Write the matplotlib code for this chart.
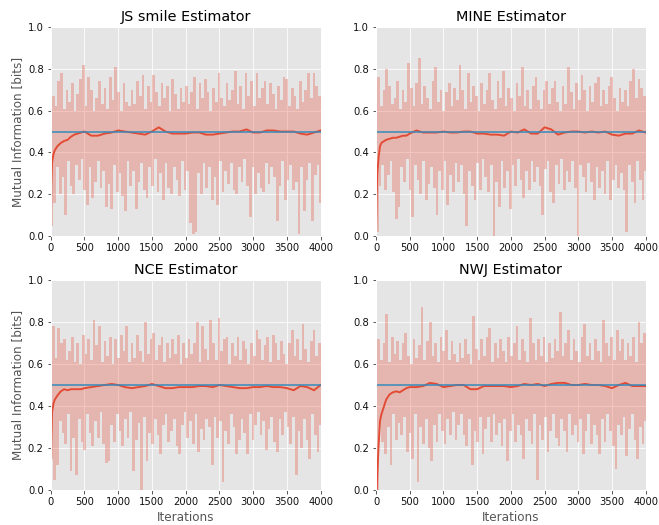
import numpy as np
import matplotlib
matplotlib.use("Agg")
import matplotlib.pyplot as plt

plt.style.use("ggplot")

titles = ["JS smile Estimator", "MINE Estimator", "NCE Estimator", "NWJ Estimator"]
true_mi = 0.5
xticks = [0, 500, 1000, 1500, 2000, 2500, 3000, 3500, 4000]
yticks = [0.0, 0.2, 0.4, 0.6, 0.8, 1.0]

# raw estimates: alternating local highs (upper) and lows (lower)
js_upper = [0.55, 0.67, 0.62, 0.74, 0.78, 0.61, 0.70, 0.64, 0.73, 0.60,
            0.68, 0.75, 0.82, 0.62, 0.76, 0.70, 0.60, 0.66, 0.74, 0.63,
            0.71, 0.61, 0.76, 0.65, 0.81, 0.69, 0.60, 0.73, 0.64, 0.62,
            0.70, 0.63, 0.74, 0.67, 0.77, 0.61, 0.72, 0.64, 0.77, 0.69,
            0.62, 0.73, 0.66, 0.72, 0.60, 0.75, 0.68, 0.61, 0.71, 0.64,
            0.72, 0.63, 0.69, 0.76, 0.61, 0.73, 0.66, 0.75, 0.69, 0.60,
            0.71, 0.64, 0.78, 0.66, 0.62, 0.73, 0.65, 0.70, 0.79, 0.63,
            0.72, 0.61, 0.78, 0.67, 0.74, 0.62, 0.78, 0.66, 0.71, 0.74,
            0.63, 0.73, 0.68, 0.61, 0.72, 0.65, 0.76, 0.75, 0.62, 0.71,
            0.67, 0.61, 0.74, 0.64, 0.70, 0.78, 0.66, 0.78, 0.72, 0.67]
js_lower = [0.05, 0.16, 0.33, 0.20, 0.28, 0.10, 0.36, 0.24, 0.20, 0.34,
            0.27, 0.37, 0.22, 0.15, 0.33, 0.18, 0.26, 0.36, 0.23, 0.31,
            0.14, 0.25, 0.13, 0.34, 0.21, 0.30, 0.19, 0.12, 0.36, 0.24,
            0.31, 0.13, 0.26, 0.35, 0.22, 0.18, 0.33, 0.24, 0.37, 0.21,
            0.30, 0.17, 0.35, 0.23, 0.20, 0.33, 0.27, 0.19, 0.36, 0.22,
            0.31, 0.06, 0.01, 0.02, 0.30, 0.20, 0.35, 0.23, 0.33, 0.17,
            0.28, 0.15, 0.36, 0.21, 0.31, 0.25, 0.35, 0.22, 0.20, 0.33,
            0.26, 0.37, 0.24, 0.09, 0.33, 0.20, 0.30, 0.23, 0.21, 0.35,
            0.25, 0.33, 0.28, 0.07, 0.24, 0.36, 0.17, 0.27, 0.34, 0.22,
            0.26, 0.01, 0.33, 0.12, 0.27, 0.35, 0.07, 0.29, 0.34, 0.16]

mine_upper = [0.45, 0.76, 0.62, 0.70, 0.80, 0.72, 0.63, 0.66, 0.74, 0.61,
              0.70, 0.64, 0.83, 0.71, 0.62, 0.73, 0.85, 0.63, 0.72, 0.66,
              0.61, 0.74, 0.81, 0.64, 0.70, 0.60, 0.69, 0.73, 0.62, 0.71,
              0.65, 0.82, 0.70, 0.61, 0.78, 0.64, 0.72, 0.67, 0.60, 0.73,
              0.63, 0.70, 0.78, 0.65, 0.61, 0.74, 0.66, 0.79, 0.62, 0.71,
              0.66, 0.60, 0.73, 0.67, 0.81, 0.62, 0.70, 0.61, 0.72, 0.76,
              0.65, 0.61, 0.70, 0.74, 0.63, 0.71, 0.74, 0.64, 0.60, 0.72,
              0.63, 0.81, 0.69, 0.61, 0.73, 0.65, 0.77, 0.70, 0.60, 0.72,
              0.64, 0.73, 0.76, 0.62, 0.70, 0.63, 0.72, 0.76, 0.66, 0.60,
              0.71, 0.64, 0.70, 0.62, 0.74, 0.80, 0.66, 0.75, 0.71, 0.67]
mine_lower = [0.02, 0.24, 0.34, 0.22, 0.29, 0.36, 0.21, 0.08, 0.14, 0.33,
              0.26, 0.37, 0.22, 0.09, 0.34, 0.27, 0.20, 0.36, 0.17, 0.25,
              0.33, 0.23, 0.10, 0.31, 0.22, 0.36, 0.15, 0.29, 0.21, 0.35,
              0.26, 0.34, 0.20, 0.05, 0.31, 0.24, 0.17, 0.35, 0.22, 0.37,
              0.28, 0.21, 0.34, 0.00, 0.26, 0.14, 0.36, 0.23, 0.31, 0.13,
              0.34, 0.24, 0.37, 0.27, 0.18, 0.31, 0.22, 0.36, 0.26, 0.33,
              0.24, 0.10, 0.32, 0.36, 0.21, 0.16, 0.34, 0.25, 0.37, 0.22,
              0.31, 0.26, 0.36, 0.23, 0.00, 0.34, 0.28, 0.21, 0.35, 0.26,
              0.17, 0.33, 0.23, 0.31, 0.20, 0.36, 0.17, 0.27, 0.34, 0.23,
              0.30, 0.22, 0.02, 0.34, 0.26, 0.16, 0.36, 0.27, 0.17, 0.31]

nce_upper = [0.50, 0.78, 0.63, 0.77, 0.70, 0.72, 0.62, 0.66, 0.73, 0.61,
             0.70, 0.60, 0.74, 0.65, 0.72, 0.62, 0.81, 0.69, 0.78, 0.61,
             0.71, 0.64, 0.73, 0.60, 0.72, 0.63, 0.74, 0.66, 0.78, 0.61,
             0.70, 0.63, 0.74, 0.66, 0.61, 0.80, 0.65, 0.72, 0.75, 0.62,
             0.69, 0.73, 0.61, 0.70, 0.63, 0.72, 0.65, 0.74, 0.60, 0.70,
             0.63, 0.72, 0.65, 0.70, 0.80, 0.61, 0.78, 0.67, 0.62, 0.81,
             0.70, 0.62, 0.82, 0.66, 0.72, 0.73, 0.60, 0.70, 0.64, 0.73,
             0.62, 0.71, 0.67, 0.60, 0.70, 0.64, 0.76, 0.72, 0.62, 0.69,
             0.73, 0.61, 0.74, 0.70, 0.62, 0.71, 0.65, 0.60, 0.70, 0.76,
             0.64, 0.72, 0.62, 0.79, 0.67, 0.61, 0.71, 0.76, 0.64, 0.70]
nce_lower = [0.15, 0.05, 0.12, 0.33, 0.27, 0.22, 0.36, 0.09, 0.25, 0.07,
             0.34, 0.23, 0.19, 0.36, 0.27, 0.21, 0.33, 0.25, 0.37, 0.22,
             0.13, 0.14, 0.31, 0.23, 0.36, 0.28, 0.21, 0.34, 0.25, 0.37,
             0.09, 0.24, 0.32, 0.00, 0.35, 0.14, 0.27, 0.22, 0.34, 0.26,
             0.17, 0.31, 0.36, 0.23, 0.28, 0.34, 0.21, 0.17, 0.31, 0.37,
             0.25, 0.33, 0.22, 0.36, 0.18, 0.29, 0.24, 0.34, 0.30, 0.12,
             0.35, 0.25, 0.33, 0.04, 0.28, 0.22, 0.36, 0.30, 0.17, 0.24,
             0.34, 0.27, 0.17, 0.36, 0.24, 0.31, 0.37, 0.26, 0.33, 0.19,
             0.29, 0.35, 0.23, 0.18, 0.34, 0.26, 0.37, 0.30, 0.22, 0.35,
             0.07, 0.28, 0.20, 0.34, 0.24, 0.15, 0.36, 0.26, 0.18, 0.31]

nwj_upper = [0.35, 0.72, 0.62, 0.70, 0.84, 0.61, 0.73, 0.65, 0.71, 0.62,
             0.70, 0.75, 0.64, 0.60, 0.72, 0.63, 0.69, 0.87, 0.62, 0.71,
             0.80, 0.64, 0.70, 0.61, 0.73, 0.66, 0.76, 0.62, 0.71, 0.65,
             0.61, 0.70, 0.63, 0.72, 0.65, 0.60, 0.83, 0.67, 0.62, 0.72,
             0.64, 0.73, 0.77, 0.61, 0.70, 0.63, 0.72, 0.66, 0.61, 0.73,
             0.64, 0.70, 0.78, 0.62, 0.72, 0.66, 0.61, 0.82, 0.70, 0.62,
             0.72, 0.64, 0.73, 0.61, 0.70, 0.63, 0.72, 0.66, 0.85, 0.64,
             0.70, 0.76, 0.62, 0.72, 0.66, 0.61, 0.73, 0.79, 0.64, 0.70,
             0.62, 0.72, 0.66, 0.61, 0.81, 0.70, 0.64, 0.73, 0.62, 0.76,
             0.66, 0.72, 0.62, 0.70, 0.64, 0.73, 0.61, 0.80, 0.70, 0.75]
nwj_lower = [0.00, 0.33, 0.23, 0.17, 0.30, 0.12, 0.36, 0.24, 0.32, 0.26,
             0.35, 0.18, 0.27, 0.15, 0.36, 0.04, 0.30, 0.22, 0.34, 0.20,
             0.14, 0.31, 0.23, 0.36, 0.28, 0.22, 0.34, 0.26, 0.37, 0.24,
             0.31, 0.36, 0.26, 0.21, 0.34, 0.12, 0.28, 0.23, 0.35, 0.17,
             0.29, 0.35, 0.23, 0.36, 0.26, 0.32, 0.21, 0.34, 0.14, 0.28,
             0.36, 0.23, 0.31, 0.26, 0.15, 0.34, 0.28, 0.22, 0.36, 0.05,
             0.31, 0.24, 0.35, 0.18, 0.28, 0.36, 0.25, 0.21, 0.34, 0.28,
             0.18, 0.36, 0.26, 0.31, 0.23, 0.34, 0.17, 0.28, 0.36, 0.22,
             0.31, 0.26, 0.17, 0.34, 0.23, 0.36, 0.28, 0.21, 0.10, 0.31,
             0.26, 0.35, 0.16, 0.29, 0.36, 0.24, 0.15, 0.30, 0.22, 0.33]

# smoothed estimates
smooth_x = [0, 10, 20, 40, 60, 80, 100, 150, 200, 250, 300, 350, 400, 450, 500,
            600, 700, 800, 900, 1000, 1100, 1200, 1300, 1400, 1500, 1600, 1700,
            1800, 1900, 2000, 2100, 2200, 2300, 2400, 2500, 2600, 2700, 2800,
            2900, 3000, 3100, 3200, 3300, 3400, 3500, 3600, 3700, 3800, 3900, 4000]
js_smooth = [0.0, 0.25, 0.35, 0.39, 0.41, 0.42, 0.43, 0.445, 0.455, 0.46, 0.475, 0.485, 0.49, 0.495, 0.50,
             0.48, 0.48, 0.49, 0.495, 0.505, 0.50, 0.495, 0.49, 0.485, 0.50, 0.52, 0.50,
             0.49, 0.49, 0.49, 0.495, 0.495, 0.485, 0.485, 0.49, 0.495, 0.50, 0.50,
             0.51, 0.495, 0.495, 0.505, 0.505, 0.50, 0.50, 0.50, 0.49, 0.485, 0.495, 0.505]
mine_smooth = [0.02, 0.20, 0.30, 0.38, 0.43, 0.445, 0.45, 0.46, 0.465, 0.47, 0.47, 0.475, 0.48, 0.48, 0.49,
               0.505, 0.495, 0.495, 0.495, 0.50, 0.495, 0.495, 0.50, 0.50, 0.49, 0.49, 0.485,
               0.485, 0.48, 0.50, 0.495, 0.51, 0.49, 0.49, 0.52, 0.51, 0.485, 0.495,
               0.50, 0.50, 0.495, 0.50, 0.495, 0.50, 0.485, 0.48, 0.49, 0.49, 0.505, 0.495]
nce_smooth = [0.0, 0.25, 0.37, 0.41, 0.43, 0.44, 0.45, 0.47, 0.48, 0.475, 0.48, 0.48, 0.48, 0.48, 0.485,
              0.49, 0.495, 0.50, 0.505, 0.50, 0.49, 0.485, 0.49, 0.495, 0.505, 0.495, 0.485,
              0.485, 0.49, 0.49, 0.49, 0.495, 0.495, 0.49, 0.50, 0.495, 0.49, 0.485,
              0.485, 0.49, 0.49, 0.495, 0.49, 0.49, 0.485, 0.475, 0.495, 0.49, 0.475, 0.50]
nwj_smooth = [0.0, 0.0, 0.08, 0.22, 0.33, 0.36, 0.38, 0.43, 0.455, 0.465, 0.47, 0.465, 0.475, 0.485, 0.49,
              0.49, 0.495, 0.51, 0.505, 0.49, 0.495, 0.50, 0.50, 0.48, 0.48, 0.495, 0.495,
              0.495, 0.495, 0.49, 0.495, 0.505, 0.50, 0.505, 0.495, 0.505, 0.51, 0.51,
              0.50, 0.50, 0.505, 0.50, 0.50, 0.495, 0.485, 0.50, 0.51, 0.495, 0.495, 0.495]

uppers = [js_upper, mine_upper, nce_upper, nwj_upper]
lowers = [js_lower, mine_lower, nce_lower, nwj_lower]
smooths = [js_smooth, mine_smooth, nce_smooth, nwj_smooth]

fig = plt.figure(figsize=(659 / 72, 525 / 72), dpi=72)
W, H = 659, 525
boxes = [(50.7, 27, 320.7, 236), (376, 27, 645.7, 236),
         (50.7, 280, 320.7, 490), (376, 280, 645.7, 490)]

red = "#E24A33"
blue = "#348ABD"

for k in range(4):
    x0, y0, x1, y1 = boxes[k]
    ax = fig.add_axes([x0 / W, 1 - y1 / H, (x1 - x0) / W, (y1 - y0) / H])
    up = np.array(uppers[k])
    lo = np.array(lowers[k])
    raw = np.empty(up.size + lo.size)
    raw[0::2] = up
    raw[1::2] = lo
    raw_x = np.linspace(0, 4000, raw.size)
    # the dense raw trace: area swept by each segment between consecutive raw values
    seg_lo = np.minimum(raw[:-1], raw[1:])
    seg_hi = np.maximum(raw[:-1], raw[1:])
    seg_lo = np.append(seg_lo, seg_lo[-1])
    seg_hi = np.append(seg_hi, seg_hi[-1])
    ax.fill_between(raw_x, seg_lo, seg_hi, step="post", color=red, alpha=0.3,
                    linewidth=0)
    ax.plot(smooth_x, smooths[k], color=red, lw=1.9)
    ax.axhline(true_mi, color=blue, lw=1.5)
    ax.set_xlim(0, 4000)
    ax.set_ylim(0, 1.0)
    ax.set_xticks(xticks)
    ax.set_yticks(yticks)
    ax.set_yticklabels([f"{v:.1f}" for v in yticks])
    ax.tick_params(labelsize=10, labelcolor="#111111", color="#333333")
    ax.set_title(titles[k], fontsize=14.4, color="black")
    if k % 2 == 0:
        ax.set_ylabel("Mutual Information [bits]", fontsize=12, color="#555555")
    if k >= 2:
        ax.set_xlabel("Iterations", fontsize=12, color="#555555")

fig.savefig("out.png", dpi=72)
